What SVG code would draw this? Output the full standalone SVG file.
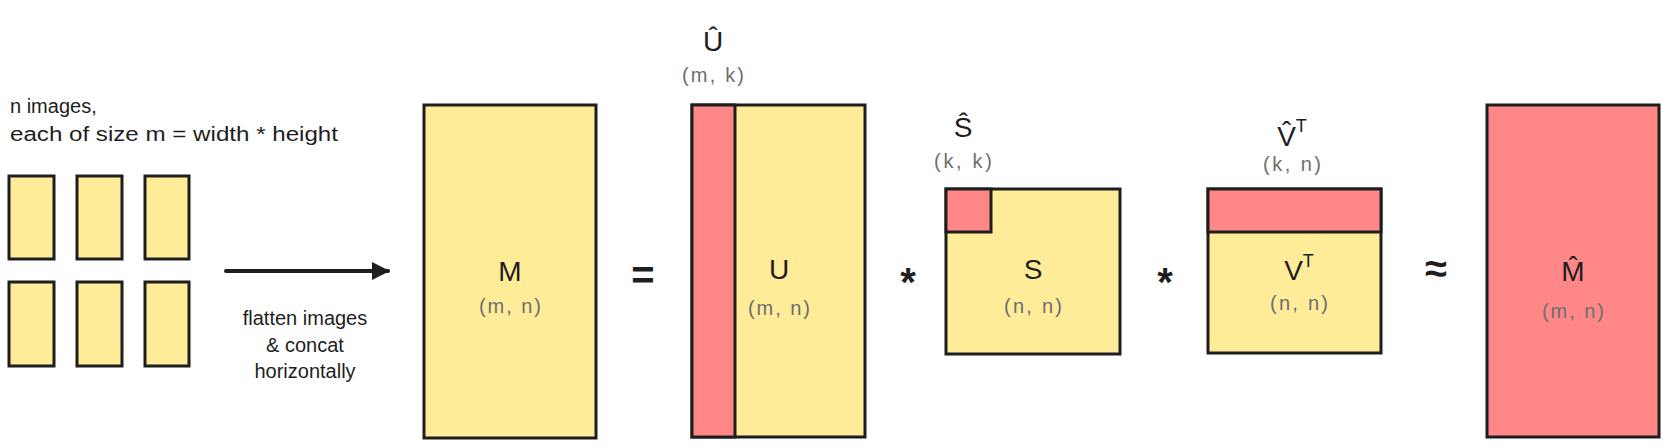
<svg xmlns="http://www.w3.org/2000/svg" width="1668" height="448" viewBox="0 0 1668 448">
<style>
.y{fill:#ffec99;stroke:#1e1e1e;stroke-width:3}
.r{fill:#ff8787;stroke:#1e1e1e;stroke-width:3}
.t{font-family:"Liberation Sans",Arial,sans-serif;fill:#1e1e1e}
.lab{font-size:20px}
.big{font-size:28px;text-anchor:middle}
.dim{font-size:20px;fill:#6e6e6e;text-anchor:middle}
.op{font-size:40px;font-weight:bold;text-anchor:middle}
</style>
<defs>
<marker id="ah" viewBox="0 0 10 10" refX="9" refY="5" markerWidth="4.5" markerHeight="4.5" orient="auto" markerUnits="strokeWidth">
<path d="M0,0 L10,5 L0,10 z" fill="#1e1e1e"/>
</marker>
</defs>
<rect width="1668" height="448" fill="#ffffff"/>

<g id="images">
<rect class="y" x="9" y="176" width="45" height="83"/>
<rect class="y" x="77" y="176" width="45" height="83"/>
<rect class="y" x="145" y="176" width="44" height="83"/>
<rect class="y" x="9" y="282" width="45" height="84"/>
<rect class="y" x="77" y="282" width="45" height="84"/>
<rect class="y" x="145" y="282" width="44" height="84"/>
<text class="t lab" x="10" y="113">n images,</text>
<text class="t lab" x="10" y="141" textLength="328" lengthAdjust="spacingAndGlyphs">each of size m = width * height</text>
</g>

<g id="connectors">
<line x1="226" y1="271" x2="388" y2="271" stroke="#1e1e1e" stroke-width="4" stroke-linecap="round" marker-end="url(#ah)"/>
<text class="t lab" x="305" y="325" text-anchor="middle">flatten images</text>
<text class="t lab" x="305" y="352" text-anchor="middle">&amp; concat</text>
<text class="t lab" x="305" y="378" text-anchor="middle">horizontally</text>
</g>

<g id="M">
<rect class="y" x="424" y="105" width="172" height="333"/>
<text class="t big" x="510" y="281">M</text>
<text class="t dim" x="510" y="313" textLength="62">(m, n)</text>
</g>

<g id="eq">
<text class="t op" x="643" y="289">=</text>
</g>

<g id="U">
<rect class="y" x="692" y="105" width="173" height="332"/>
<rect class="r" x="692" y="105" width="43" height="332"/>
<text class="t big" x="713" y="51" font-size="30">Û</text>
<text class="t dim" x="713" y="82" textLength="62">(m, k)</text>
<text class="t big" x="779" y="279">U</text>
<text class="t dim" x="779" y="315" textLength="62">(m, n)</text>
</g>

<g id="mul1">
<text class="t op" x="908" y="296">*</text>
</g>

<g id="S">
<rect class="y" x="946" y="189" width="174" height="165"/>
<rect class="r" x="946" y="189" width="45" height="43"/>
<text class="t big" x="963" y="137" font-size="30">Ŝ</text>
<text class="t dim" x="963" y="168" textLength="58">(k, k)</text>
<text class="t big" x="1033" y="279">S</text>
<text class="t dim" x="1033" y="313" textLength="58">(n, n)</text>
</g>

<g id="mul2">
<text class="t op" x="1165" y="296">*</text>
</g>

<g id="V">
<rect class="y" x="1208" y="189" width="173" height="164"/>
<rect class="r" x="1208" y="189" width="173" height="43"/>
<text class="t big" x="1292" y="146" font-size="30">V̂<tspan font-size="18" dy="-14">T</tspan></text>
<text class="t dim" x="1292" y="171" textLength="58">(k, n)</text>
<text class="t big" x="1299" y="280">V<tspan font-size="18" dy="-13">T</tspan></text>
<text class="t dim" x="1299" y="310" textLength="58">(n, n)</text>
</g>

<g id="approx">
<text class="t op" x="1436" y="282" font-size="44">≈</text>
</g>

<g id="Mhat">
<rect class="r" x="1487" y="105" width="172" height="332"/>
<text class="t big" x="1573" y="281">M̂</text>
<text class="t dim" x="1573" y="318" textLength="62">(m, n)</text>
</g>
</svg>
